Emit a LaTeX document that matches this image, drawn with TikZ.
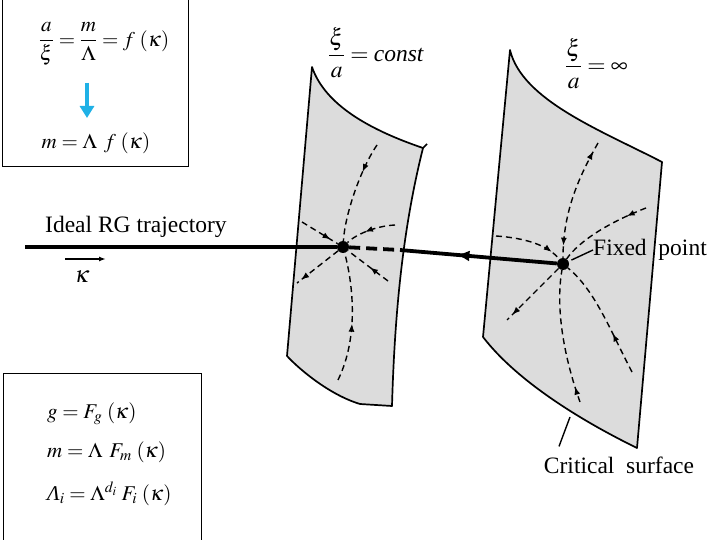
\documentclass[tikz,border=0pt]{standalone}
\usepackage{mathptmx}
\usepackage{fontspec}
\setmainfont{Liberation Serif}
\usetikzlibrary{arrows.meta,decorations.markings,calc}
\definecolor{sheetgray}{HTML}{DCDCDC}
\definecolor{skyc}{HTML}{1FB1E6}
\tikzset{
  sheet/.style={draw=black, line width=1.7pt, fill=sheetgray, line join=round},
  flow/.style={line width=1.4pt, dash pattern=on 6pt off 4pt},
  flowtip/.style={postaction={decorate, decoration={markings,
      mark=at position #1 with {\arrow{Latex[length=8pt,width=6pt]}}}}},
  flowtiprev/.style={postaction={decorate, decoration={markings,
      mark=at position #1 with {\arrowreversed{Latex[length=8pt,width=6pt]}}}}},
  traj/.style={line width=3.8pt},
  trajtip/.style={postaction={decorate, decoration={markings,
      mark=at position #1 with {\arrow{Latex[length=13pt,width=11pt]}}}}},
  fixpt/.style={circle, fill=black, inner sep=0pt, minimum size=12pt},
  lbl/.style={font=\fontsize{23.5}{28}\selectfont, inner sep=0pt},
  eqn/.style={font=\fontsize{21}{25}\selectfont, inner sep=0pt},
  frame/.style={draw=black, line width=1pt},
  thin/.style={line width=1.4pt},
}
\begin{document}
\begin{tikzpicture}[x=1pt, y=-1pt]
  \useasboundingbox (0,0) rectangle (720,540);
  % the two surfaces
  \draw[sheet] (312,67) .. controls (325,105) and (370,130) .. (423,148)
    .. controls (405,220) and (395,300) .. (392,406) -- (360,404)
    .. controls (330,395) and (300,370) .. (287,356) -- cycle;
  \draw[line width=1.7pt] (423,148) -- (427,144);
  \draw[sheet] (510,50) .. controls (522,100) and (600,130) .. (662,162)
    -- (637,448) .. controls (590,425) and (520,385) .. (483,337) -- cycle;

  \node[fixpt] (fpA) at (343,247) {};
  \node[fixpt] (fpB) at (563,264) {};

  % RG trajectory
  \coordinate (trajL) at (25,247);
  \coordinate (edgeA) at (400,250);
  \draw[traj] (trajL) -- (fpA);
  \draw[traj, dash pattern=on 11pt off 6pt] (fpA) -- (edgeA);
  \draw[traj, trajtip=0.64] (fpB) -- (edgeA);

  % flow on the surface xi/a = const
  \coordinate (aT) at (377,145);
  \coordinate (aB) at (338,380);
  \coordinate (aUL) at (302,222);
  \coordinate (aUR) at (395,225);
  \coordinate (aLL) at (297,283);
  \coordinate (aLR) at (388,281);
  \draw[flow, flowtip=0.3] (aT) .. controls (360,170) and (345,215) .. (fpA);
  \draw[flow, flowtip=0.45] (aB) .. controls (360,335) and (352,280) .. (fpA);
  \draw[flow, flowtip=0.8] (aUL) -- (fpA);
  \draw[flow, flowtip=0.6] (aUR) .. controls (375,226) and (355,235) .. (fpA);
  \draw[flow, flowtip=0.9] (fpA) -- (aLL);
  \draw[flow, flowtip=0.45] (aLR) -- (fpA);

  % flow on the critical surface
  \coordinate (bT) at (598,143);
  \coordinate (bB) at (580,402);
  \coordinate (bUL) at (496,236);
  \coordinate (bUR) at (646,208);
  \coordinate (bLL) at (507,320);
  \coordinate (bLR) at (632,372);
  \draw[flow, flowtiprev=0.08, flowtip=0.9] (bT) .. controls (580,175) and (563,210) .. (fpB);
  \draw[flow, flowtip=0.85] (bUL) .. controls (525,238) and (548,245) .. (fpB);
  \draw[flow, flowtip=0.22] (bUR) .. controls (610,222) and (580,240) .. (fpB);
  \draw[flow, flowtip=0.9] (fpB) -- (bLL);
  \draw[flow, flowtip=0.12] (bB) .. controls (565,360) and (555,310) .. (fpB);
  \draw[flow, flowtip=0.35] (bLR) .. controls (610,330) and (595,290) .. (fpB);

  % labels
  \node[lbl, anchor=west] (constlbl) at (328,53) {$\displaystyle\frac{\xi}{a}=\textit{const}$};
  \node[lbl, anchor=west] (inflbl) at (565,64) {$\displaystyle\frac{\xi}{a}=\infty$};
  \node[lbl, anchor=base west] (ideal) at (45,233) {Ideal RG trajectory};
  \coordinate (kapL) at (65,259);
  \coordinate (kapR) at (106,259);
  \draw[thin, -{Latex[length=7pt,width=5pt]}] (kapL) -- (kapR);
  \node[lbl] (kap) at (82,277) {$\kappa$};
  \node[lbl, anchor=west] (fix) at (593,250) {Fixed\ \ point};
  \draw[thin, shorten <=3pt] (fpB) -- (fix.west);
  \node[lbl] (crit) at (619,465) {Critical\ \ surface};
  \coordinate (critA) at (570,417);
  \draw[thin] (critA) -- ([xshift=-60pt,yshift=10pt]crit.north);

  % boxes with the relations
  \draw[frame] (2,-3) rectangle (188,167);
  \node[eqn] (ratio) at (104,44) {$\displaystyle\frac{a}{\xi}=\frac{m}{\Lambda}=f\;(\kappa)$};
  \coordinate (arrTop) at (87,83);
  \coordinate (arrBot) at (87,118);
  \draw[skyc, line width=4.5pt, -{Triangle[length=12pt,width=14pt]}] (arrTop) -- (arrBot);
  \node[eqn] (mlam) at (96,143) {$m=\Lambda\;\,f\;(\kappa)$};

  \draw[frame] (3,373) rectangle (201,545);
  \node[eqn, anchor=base west] (eqg) at (47,418) {$g=F_{g}\;(\kappa)$};
  \node[eqn, anchor=base west] (eqm) at (47,457) {$m=\Lambda\;\,F_{m}\;(\kappa)$};
  \node[eqn, anchor=base west] (eqL) at (47,500) {\textit{Λ}$_{i}=\Lambda^{d_i}\;F_{i}\;(\kappa)$};
\end{tikzpicture}
\end{document}
